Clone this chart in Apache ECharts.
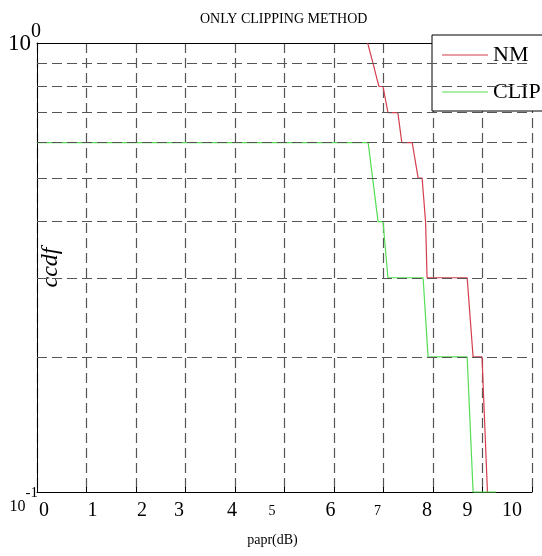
<!DOCTYPE html>
<html>
<head>
<meta charset="utf-8">
<title>ONLY CLIPPING METHOD</title>
<script src="https://cdn.jsdelivr.net/npm/echarts@6/dist/echarts.min.js"></script>
<style>
html, body {margin:0; padding:0; background:#fff;}
#ccdfChart {width:542px; height:556px;}
</style>
</head>
<body>
<div id="ccdfChart"></div>
<script>
// x axis ticks
var xTicks = [0, 1, 2, 3, 4, 5, 6, 7, 8, 9, 10];
var xTickLabels = ['0', '1', '2', '3', '4', '5', '6', '7', '8', '9', '10'];
// y axis (log) ticks: 10^-1 and 10^0
var yTicks = [0.1, 1];
var yTickBase = ['10', '10'];
var yTickExp = ['-1', '0'];
// minor log grid lines
var yGrid = [0.2, 0.3, 0.4, 0.5, 0.6, 0.7, 0.8, 0.9];

// [papr, ccdf]
var nmData = [
    [6.68, 1], [6.79, 0.9], [6.87, 0.83], [6.91, 0.8], [6.99, 0.8],
    [7.09, 0.7], [7.29, 0.7], [7.37, 0.6], [7.58, 0.6], [7.70, 0.5],
    [7.78, 0.5], [7.85, 0.4], [7.88, 0.3], [8.69, 0.3], [8.81, 0.2],
    [8.99, 0.2], [9.10, 0.1]
];
var clipData = [
    [0, 0.6], [6.69, 0.6], [6.89, 0.4], [6.99, 0.4], [7.09, 0.3],
    [7.80, 0.3], [7.90, 0.2], [8.69, 0.2], [8.81, 0.1], [9.27, 0.1]
];

var serif = '"Liberation Serif", "DejaVu Serif", serif';
var gridDash = {color: '#555', type: [10, 5], width: 1.2};

// the x tick labels are not centred on their ticks in the original
var xLabelShift = [7, 6, 6, -6.5, -3, -12.5, -3.5, -6, -6, -15, -20];
var xLabelSize = [20, 20, 20, 20, 20, 14, 20, 14, 20, 20, 20];
var xRich = {};
for (var i = 0; i < xTicks.length; i++) {
    var s = xLabelShift[i];
    var pt = xLabelSize[i] < 20 ? 3 : 0;
    xRich['x' + i] = {
        fontFamily: serif,
        fontSize: xLabelSize[i],
        color: '#000',
        padding: s > 0 ? [pt, 0, 0, 2 * s] : [pt, -2 * s, 0, 0]
    };
}

var yRich = {
    b0: {fontFamily: serif, fontSize: 16, color: '#000', verticalAlign: 'top', padding: [30, 0, 0, 0]},
    e0: {fontFamily: serif, fontSize: 15, color: '#000', verticalAlign: 'top', padding: [17, 3, 0, 0]},
    b1: {fontFamily: serif, fontSize: 23, color: '#000', verticalAlign: 'bottom', padding: [0, 0, 9, 0]},
    e1: {fontFamily: serif, fontSize: 20, color: '#000', verticalAlign: 'bottom', padding: [0, 0, 22, 0]}
};

var chart = echarts.init(document.getElementById('ccdfChart'));
var option = {
    backgroundColor: '#fff',
    animation: false,
    title: {
        text: 'ONLY CLIPPING METHOD',
        left: 200,
        top: 12,
        padding: 0,
        textStyle: {fontFamily: serif, fontSize: 14, fontWeight: 'normal', color: '#000'}
    },
    legend: {
        orient: 'vertical',
        left: 432,
        top: 35,
        padding: [9, 10, 8, 10],
        itemGap: 15,
        itemWidth: 46,
        itemHeight: 1,
        icon: 'rect',
        backgroundColor: '#fff',
        borderColor: '#000',
        borderWidth: 1,
        borderRadius: 0,
        textStyle: {fontFamily: serif, fontSize: 22, color: '#000'},
        data: ['NM', 'CLIP']
    },
    grid: {left: 37, top: 43, right: 10, bottom: 64, outerBoundsMode: 'none'},
    xAxis: [{
        type: 'value',
        min: 0,
        max: 10,
        interval: 1,
        axisLine: {show: true, onZero: false, lineStyle: {color: '#000', width: 1}},
        axisTick: {show: true, inside: true, length: 5, lineStyle: {color: '#000'}},
        axisLabel: {
            margin: 9,
            showMinLabel: true,
            showMaxLabel: true,
            formatter: function (v) {
                var k = xTicks.indexOf(v);
                if (k < 0) return '';
                return '{x' + k + '|' + xTickLabels[k] + '}';
            },
            rich: xRich
        },
        splitLine: {show: true, lineStyle: gridDash},
        name: 'papr(dB)',
        nameLocation: 'middle',
        nameGap: 41,
        nameTextStyle: {fontFamily: serif, fontSize: 14, color: '#000', padding: [0, 24, 0, 0]}
    }, {
        type: 'value',
        position: 'top',
        min: 0,
        max: 10,
        interval: 1,
        axisLine: {show: true, onZero: false, lineStyle: {color: '#000', width: 1}},
        axisTick: {show: false},
        axisLabel: {show: false},
        splitLine: {show: false}
    }],
    yAxis: {
        type: 'log',
        logBase: 10,
        min: 0.1,
        max: 1,
        axisLine: {show: true, lineStyle: {color: '#000', width: 1}},
        axisTick: {show: false},
        splitLine: {show: false},
        axisLabel: {
            margin: -4,
            formatter: function (v) {
                var k = Math.round(Math.log(v) / Math.LN10) < 0 ? 0 : 1;
                return '{b' + k + '|' + yTickBase[k] + '}{e' + k + '|' + yTickExp[k] + '}';
            },
            rich: yRich
        },
        name: 'ccdf',
        nameLocation: 'middle',
        nameGap: -26,
        nameMoveOverlap: false,
        nameTextStyle: {fontFamily: serif, fontStyle: 'italic', fontSize: 24, color: '#000'}
    },
    series: [{
        name: 'grid',
        type: 'line',
        data: [],
        silent: true,
        z: 1,
        markLine: {
            silent: true,
            symbol: ['none', 'none'],
            label: {show: false},
            lineStyle: gridDash,
            data: yGrid.map(function (v) { return {yAxis: v}; })
        }
    }, {
        name: 'NM',
        type: 'line',
        data: nmData,
        symbol: 'none',
        clip: false,
        z: 3,
        lineStyle: {color: '#d43f4f', width: 1.2},
        itemStyle: {color: '#d43f4f'}
    }, {
        name: 'CLIP',
        type: 'line',
        data: clipData,
        symbol: 'none',
        clip: false,
        z: 3,
        lineStyle: {color: '#55dd55', width: 1.2},
        itemStyle: {color: '#55dd55'}
    }]
};
chart.setOption(option);
</script>
</body>
</html>
